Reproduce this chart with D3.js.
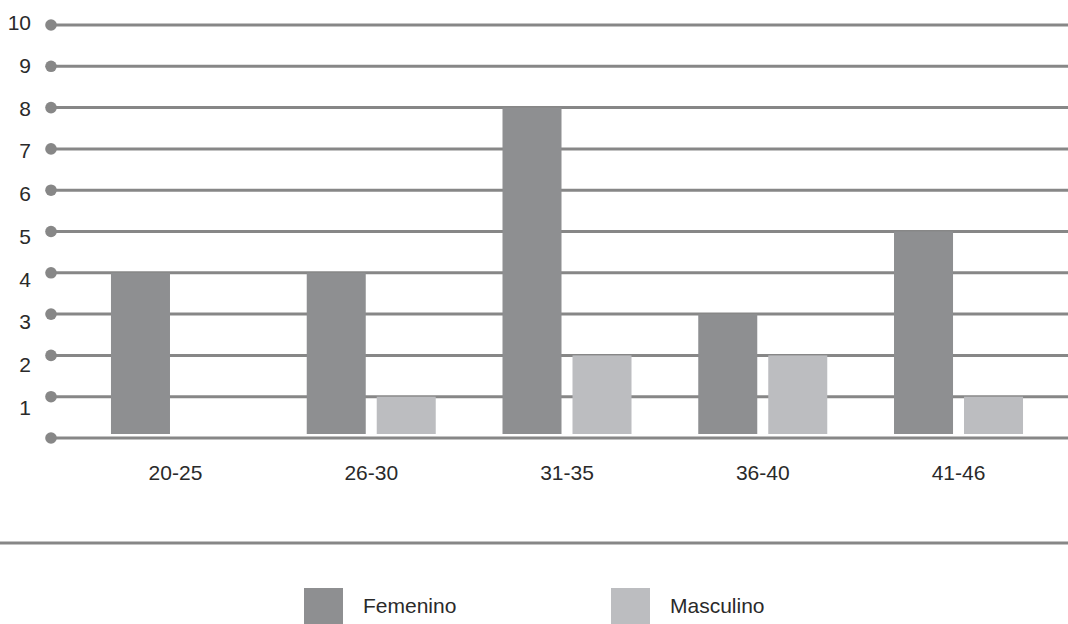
<!DOCTYPE html>
<html>
<head>
<meta charset="utf-8">
<script src="https://cdn.jsdelivr.net/npm/d3@7"></script>
<style>
	html, body { margin: 0; padding: 0; background: #fff; }
	svg { display: block; }
	text { font-family: "Liberation Sans", Arial, sans-serif; font-size: 21px; fill: #2a2a2a; }
</style>
</head>
<body>
<svg id="chart" width="1068" height="624"></svg>
<script>
(function(){
	'use strict';

	var categories = ["20-25", "26-30", "31-35", "36-40", "41-46"];
	var seriesNames = ["Femenino", "Masculino"];
	var femenino = [4, 4, 8, 3, 5];
	var masculino = [0, 1, 2, 2, 1];
	var yTicks = [0, 1, 2, 3, 4, 5, 6, 7, 8, 9, 10];

	var colors = { Femenino: "#8e8f91", Masculino: "#bcbdc0" };
	var lineColor = "#878787";

	var width = 1068, height = 624;
	var svg = d3.select("#chart");

	var rows = categories.map(function(c, i){
		return { cat: c, values: [
			{ name: "Femenino", value: femenino[i] },
			{ name: "Masculino", value: masculino[i] }
		]};
	});

	// scales
	var yScale = d3.scaleLinear().domain([0, 10]).range([438, 25]);
	// tick labels drift a little below the lines in the original
	var yLabel = d3.scaleLinear().domain([0, 10]).range([450, 22.5]);

	var x0 = d3.scaleBand()
		.domain(categories)
		.range([77.6, 1056.4])
		.paddingInner(0.341)
		.paddingOuter(0.1705);
	var x1 = d3.scaleBand()
		.domain(seriesNames)
		.range([0, x0.bandwidth()])
		.paddingInner(0.157);

	// grid lines with dots
	var grid = svg.append("g").attr("class", "grid");
	grid.selectAll("line")
		.data(yTicks)
	.enter().append("line")
		.attr("x1", 51)
		.attr("x2", width)
		.attr("y1", function(d){ return yScale(d); })
		.attr("y2", function(d){ return yScale(d); })
		.attr("stroke", lineColor)
		.attr("stroke-width", 3);
	grid.selectAll("circle")
		.data(yTicks)
	.enter().append("circle")
		.attr("cx", 51)
		.attr("cy", function(d){ return yScale(d); })
		.attr("r", 5.8)
		.attr("fill", lineColor);

	// y labels (no label at 0)
	svg.append("g").selectAll("text")
		.data(yTicks.filter(function(d){ return d > 0; }))
	.enter().append("text")
		.attr("x", 31)
		.attr("y", function(d){ return yLabel(d); })
		.attr("dy", "0.36em")
		.attr("text-anchor", "end")
		.text(function(d){ return d; });

	// bars
	var bottom = yScale(0) - 4;
	var groups = svg.append("g").selectAll("g")
		.data(rows)
	.enter().append("g")
		.attr("transform", function(d){ return "translate(" + x0(d.cat) + ",0)"; });
	groups.selectAll("rect")
		.data(function(d){ return d.values.filter(function(v){ return v.value > 0; }); })
	.enter().append("rect")
		.attr("x", function(d){ return x1(d.name); })
		.attr("width", x1.bandwidth())
		.attr("y", function(d){ return yScale(d.value); })
		.attr("height", function(d){ return bottom - yScale(d.value); })
		.attr("fill", function(d){ return colors[d.name]; });

	// x labels
	svg.append("g").selectAll("text")
		.data(categories)
	.enter().append("text")
		.attr("x", function(d){ return x0(d) + x0.bandwidth() / 2; })
		.attr("y", 472)
		.attr("dy", "0.36em")
		.attr("text-anchor", "middle")
		.text(function(d){ return d; });

	// separator
	svg.append("line")
		.attr("x1", 0).attr("x2", width)
		.attr("y1", 543).attr("y2", 543)
		.attr("stroke", lineColor)
		.attr("stroke-width", 3);

	// legend
	var legendX = [304, 611];
	var legend = svg.append("g").selectAll("g")
		.data(seriesNames)
	.enter().append("g")
		.attr("transform", function(d, i){ return "translate(" + legendX[i] + ",588)"; });
	legend.append("rect")
		.attr("width", 39)
		.attr("height", 40)
		.attr("fill", function(d){ return colors[d]; });
	legend.append("text")
		.attr("x", 59)
		.attr("y", 17)
		.attr("dy", "0.36em")
		.text(function(d){ return d; });
}());
</script>
</body>
</html>
